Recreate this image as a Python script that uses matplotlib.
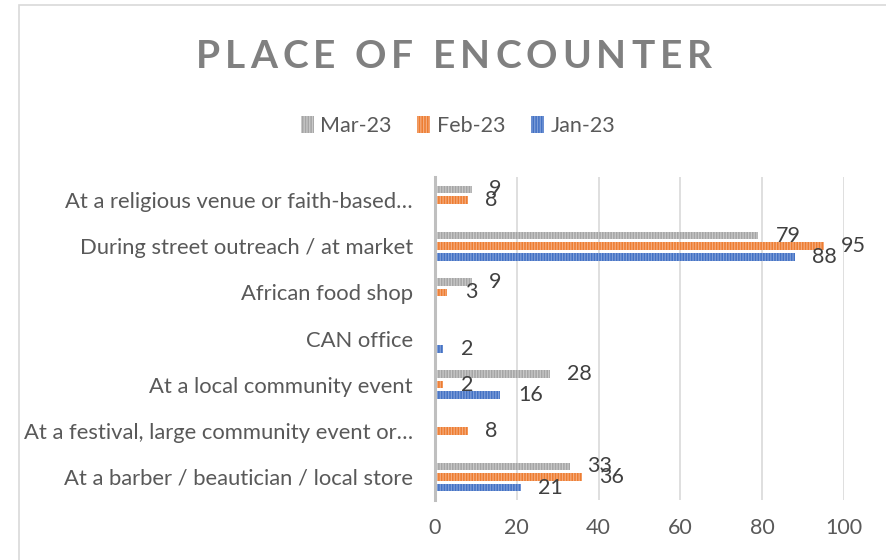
import matplotlib
matplotlib.use("Agg")
import matplotlib.pyplot as plt
import numpy as np
from matplotlib.patches import Rectangle

# categories listed top to bottom as in the chart
categories = [
    "At a religious venue or faith-based\u2026",
    "During street outreach / at market",
    "African food shop",
    "CAN office",
    "At a local community event",
    "At a festival, large community event or\u2026",
    "At a barber / beautician / local store",
]
mar_23 = [9, 79, 9, np.nan, 28, np.nan, 33]
feb_23 = [8, 95, 3, np.nan, 2, 8, 36]
jan_23 = [np.nan, 88, np.nan, 2, 16, np.nan, 21]
x_ticks = [0, 20, 40, 60, 80, 100]

TEXT = "#595959"
FONT = "Lato"
plt.rcParams["font.family"] = [FONT, "DejaVu Sans"]
plt.rcParams["hatch.linewidth"] = 0.9

fig = plt.figure(figsize=(8.86, 5.6), dpi=100)
ax = fig.add_axes([435 / 886, 1 - 500 / 560, (844 - 435) / 886, (500 - 177) / 560])

y = np.arange(len(categories))
h = 0.165
d = 0.23
series = [
    ("Mar-23", mar_23, -d, "#A5A5A5", "#C9C9C9"),
    ("Feb-23", feb_23, 0.0, "#ED7D31", "#F5AB7D"),
    ("Jan-23", jan_23, d, "#4472C4", "#7E9ED9"),
]
handles = []
for name, vals, off, col, stripe in series:
    vals = np.array(vals, dtype=float)
    bars = ax.barh(y + off, np.nan_to_num(vals), height=h, color=col,
                   edgecolor=stripe, linewidth=0, hatch="||||||", label=name, zorder=3)
    handles.append(bars)
    for yi, v in zip(y + off, vals):
        if np.isnan(v):
            continue
        ax.annotate(f"{int(v)}", (v, yi), xytext=(12.5, 0), textcoords="offset points",
                    ha="left", va="center", fontsize=15.5, color="#404040", zorder=4)

ax.set_xlim(0, 100)
ax.set_ylim(len(categories) - 0.5, -0.5)
ax.set_xticks(x_ticks)
ax.set_yticks(y)
ax.set_yticklabels(categories)
ax.tick_params(axis="y", length=0, pad=16, labelsize=15.8, labelcolor=TEXT)
ax.tick_params(axis="x", length=0, pad=13, labelsize=15.5, labelcolor=TEXT)
ax.grid(axis="x", color="#D9D9D9", linewidth=1.2, zorder=0)
ax.set_axisbelow(True)
for side in ["top", "right", "bottom"]:
    ax.spines[side].set_visible(False)
ax.spines["left"].set_color("#BFBFBF")
ax.spines["left"].set_linewidth(2.2)
ax.spines["left"].set_zorder(5)

leg = fig.legend(handles=handles, loc="center", bbox_to_anchor=(458 / 886, 1 - 126 / 560),
                 ncol=3, frameon=False, fontsize=15.5, handlelength=0.6, handleheight=0.8,
                 handletextpad=0.3, columnspacing=1.2, labelcolor=TEXT)

# title with letter spacing, drawn one character at a time
title = "PLACE OF ENCOUNTER"
tsize = 28
spacing = 5.0  # px between letters
renderer = fig.canvas.get_renderer()
widths = []
for ch in title:
    if ch == " ":
        t = fig.text(0, 0, "I I", fontsize=tsize, fontweight="bold")
        t2 = fig.text(0, 0, "II", fontsize=tsize, fontweight="bold")
        w = t.get_window_extent(renderer).width - t2.get_window_extent(renderer).width
        t.remove()
        t2.remove()
    else:
        t = fig.text(0, 0, ch, fontsize=tsize, fontweight="bold")
        w = t.get_window_extent(renderer).width
        t.remove()
    widths.append(w)
total = sum(widths) + spacing * (len(title) - 1)
xpos = 454 - total / 2
for ch, w in zip(title, widths):
    if ch != " ":
        fig.text(xpos / 886, 1 - 56 / 560, ch, fontsize=tsize, fontweight="bold",
                 color="#808080", ha="left", va="center")
    xpos += w + spacing

fig.patches.append(Rectangle((19 / 886, -0.1), 1.0, 1.1 - 5 / 560, transform=fig.transFigure,
                             fill=False, edgecolor="#D9D9D9", linewidth=1.2))

fig.savefig("out.png", dpi=100)
